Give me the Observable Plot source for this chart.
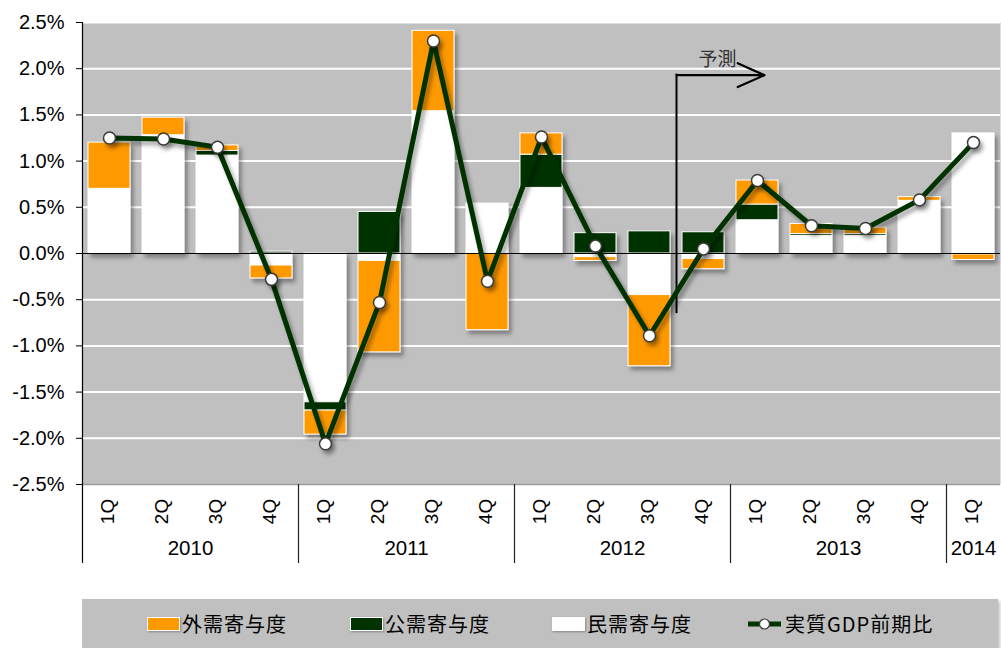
<!DOCTYPE html>
<html>
<head>
<meta charset="utf-8">
<script src="https://cdn.jsdelivr.net/npm/d3@7"></script>
<script src="https://cdn.jsdelivr.net/npm/@observablehq/plot@0.6"></script>
<style>
  body { margin: 0; background: #fff; width: 1001px; height: 648px; overflow: hidden; }
  #legend {
    position: relative; margin: 9px 0 0 82px; width: 916px; height: 49px;
    background: #c0c0c0; box-shadow: 2px 2px 3px rgba(0,0,0,0.25);
    font-family: "Noto Sans CJK JP", sans-serif; font-size: 20px; letter-spacing: 1px; color: #000;
  }
  .item { position: absolute; top: 0; height: 49px; display: flex; align-items: center; }
  .sw { width: 33px; height: 14px; box-sizing: border-box; border: 1px solid #fff; margin-right: 2px;
        box-shadow: 1px 1px 2px rgba(0,0,0,0.3); }
</style>
</head>
<body>
<div id="chart"></div>
<div id="legend"></div>
<script>
// Quarterly periods, 2010 1Q – 2014 1Q
const quarterLabels = ["1Q","2Q","3Q","4Q","1Q","2Q","3Q","4Q","1Q","2Q","3Q","4Q","1Q","2Q","3Q","4Q","1Q"];
const yearOfPeriod  = [2010,2010,2010,2010,2011,2011,2011,2011,2012,2012,2012,2012,2013,2013,2013,2013,2014];

// Contributions to real GDP growth, percentage points (q/q)
const externalDemand = [0.50, 0.19, 0.06, -0.14, -0.26, -0.99, 0.87, -0.83, 0.23, -0.04, -0.77, -0.11, 0.26, 0.11, 0.07, 0.04, -0.06];
const publicDemand   = [0.00, 0.00, 0.05, 0.02, -0.09, 0.45, 0.00, 0.01, 0.36, 0.22, 0.24, 0.23, 0.17, 0.02, 0.02, 0.00, -0.01];
const privateDemand  = [0.70, 1.28, 1.06, -0.13, -1.61, -0.08, 1.54, 0.53, 0.71, -0.04, -0.45, -0.06, 0.36, 0.19, 0.19, 0.57, 1.30];

// Real GDP growth, quarter on quarter (%)
const realGdp = [1.25, 1.24, 1.15, -0.28, -2.06, -0.53, 2.30, -0.30, 1.26, 0.08, -0.89, 0.05, 0.79, 0.30, 0.27, 0.58, 1.20];

const seriesNames = ["外需寄与度", "公需寄与度", "民需寄与度"];
const seriesColors = ["#FF9900", "#003300", "#FFFFFF"];
const lineName = "実質GDP前期比";
const lineColor = "#003300";

// First forecast period (2012 4Q)
const forecastIndex = 11;
const forecastLabel = "予測";

// ---- tables built from the arrays above ----
const stackRows = [];
quarterLabels.forEach((q, i) => {
  // stacking order from zero outwards: private, public, external
  [[seriesNames[2], privateDemand[i]], [seriesNames[1], publicDemand[i]], [seriesNames[0], externalDemand[i]]]
    .forEach(([s, v]) => { if (v !== 0) stackRows.push({i, series: s, v}); });
});
const gdpRows = realGdp.map((v, i) => ({i, v}));
const quarterRows = quarterLabels.map((q, i) => ({i, q}));

const years = [...new Set(yearOfPeriod)];
const yearRows = years.map(y => {
  const idx = yearOfPeriod.map((yy, i) => yy === y ? i : -1).filter(i => i >= 0);
  return {year: String(y), center: (idx[0] + idx[idx.length - 1]) / 2, start: idx[0]};
});
const yearBounds = yearRows.slice(1).map(d => d.start - 0.5);

// ---- layout ----
const W = 1001, H = 590, mt = 22, mb = 106, ml = 82, mr = 1;
const frameH = H - mt - mb;
const belowAxis = 79;            // length of the year separators below the plot
const yTicks = d3.range(-5, 6).map(k => k * 0.5);

const arrowY = 1.93, arrowBottom = -0.64, arrowEnd = forecastIndex + 1.13;
const arrowStart = forecastIndex - 0.5;

const svg = Plot.plot({
  width: W, height: H,
  marginTop: mt, marginBottom: mb, marginLeft: ml, marginRight: mr,
  style: {fontFamily: "'Liberation Sans', Arial, sans-serif", fontSize: "20px", background: "white", color: "black", overflow: "visible"},
  x: {type: "linear", domain: [-0.5, quarterLabels.length - 0.5], axis: null},
  y: {domain: [-2.5, 2.5], axis: null},
  color: {domain: seriesNames, range: seriesColors},
  marks: [
    Plot.frame({fill: "#c0c0c0", stroke: "none"}),
    Plot.ruleY(yTicks.filter(t => t !== 0 && t !== -2.5), {stroke: "white", strokeWidth: 2}),
    Plot.ruleY([-2.5], {stroke: "#9a9a9a", strokeWidth: 1.5}),
    Plot.rect(stackRows, Plot.stackY({
      x1: d => d.i - 0.5, x2: d => d.i + 0.5, y: "v", fill: "series",
      insetLeft: 6, insetRight: 6, stroke: "white", strokeWidth: 1
    })),
    Plot.ruleY([0], {stroke: "black", strokeWidth: 1.2}),
    Plot.axisY({ticks: yTicks, tickFormat: d => d.toFixed(1) + "%", tickSize: 6, tickPadding: 12, fontSize: 20}),
    Plot.ruleX([-0.5], {stroke: "black", strokeWidth: 1.2, insetBottom: -belowAxis}),
    Plot.ruleX(yearBounds, {stroke: "#222", strokeWidth: 1.2, insetTop: frameH, insetBottom: -belowAxis}),
    Plot.text(quarterRows, {x: "i", text: "q", frameAnchor: "bottom", dx: 4, dy: 27, rotate: -90, textAnchor: "middle", fontSize: 19}),
    Plot.text(yearRows, {x: "center", text: "year", frameAnchor: "bottom", dy: 70, textAnchor: "middle", fontSize: 20.5}),
    // forecast marker
    Plot.ruleX([arrowStart], {y1: arrowBottom, y2: arrowY, stroke: "black", strokeWidth: 2, strokeLinecap: "square"}),
    Plot.arrow([{x1: arrowStart, x2: arrowEnd, y: arrowY}], {
      x1: "x1", x2: "x2", y1: "y", y2: "y", stroke: "black", strokeWidth: 2.2, headLength: 20, headAngle: 48
    }),
    Plot.text([forecastLabel], {x: forecastIndex + 0.26, y: arrowY + 0.16, text: d => d, fill: "#333",
      fontFamily: "'Noto Sans CJK JP', sans-serif", fontSize: 19}),
    // real GDP line
    Plot.line(gdpRows, {x: "i", y: "v", stroke: lineColor, strokeWidth: 5, strokeLinejoin: "round"}),
    Plot.dot(gdpRows, {x: "i", y: "v", r: 6, fill: "white", stroke: "#3a3a3a", strokeWidth: 1.5})
  ]
});

// soft drop shadow under bars, line and markers
const sel = d3.select(svg);
const f = sel.insert("defs", ":first-child").append("filter")
  .attr("id", "dropShade").attr("x", "-10%").attr("y", "-10%").attr("width", "130%").attr("height", "130%");
f.append("feDropShadow").attr("dx", 3).attr("dy", 4).attr("stdDeviation", 2)
  .attr("flood-color", "#000").attr("flood-opacity", 0.35);
sel.selectAll('g[aria-label="rect"], g[aria-label="line"], g[aria-label="dot"]').attr("filter", "url(#dropShade)");

document.getElementById("chart").appendChild(svg);

// legend
const legend = document.getElementById("legend");
const lefts = [65, 268, 470, 666];
seriesNames.forEach((name, k) => {
  const item = document.createElement("div");
  item.className = "item";
  item.style.left = lefts[k] + "px";
  const sw = document.createElement("span");
  sw.className = "sw";
  sw.style.background = seriesColors[k];
  item.appendChild(sw);
  item.appendChild(document.createTextNode(name));
  legend.appendChild(item);
});
const li = document.createElement("div");
li.className = "item";
li.style.left = lefts[3] + "px";
li.innerHTML = `<svg width="35" height="14" style="margin-right:2px"><line x1="0" x2="33" y1="7" y2="7" stroke="${lineColor}" stroke-width="5"/><circle cx="16.5" cy="7" r="5" fill="white" stroke="#3a3a3a" stroke-width="1.2"/></svg>`;
li.appendChild(document.createTextNode(lineName));
legend.appendChild(li);
</script>
</body>
</html>
